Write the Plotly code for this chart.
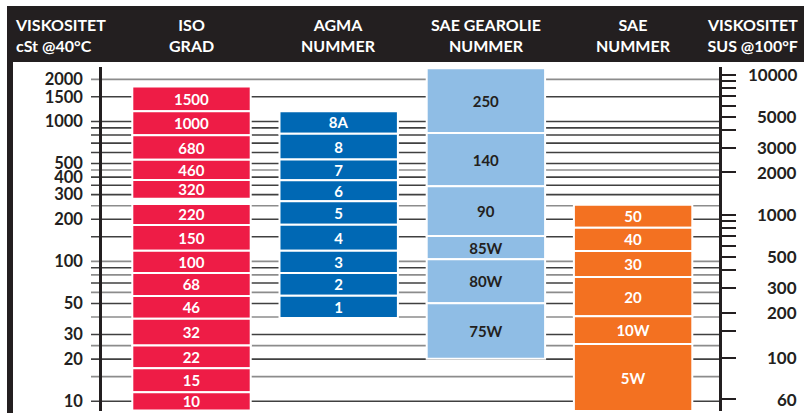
import numpy as np
import plotly.graph_objects as go

# ---------------- data ----------------
# Left scale: cSt @ 40 C
cst_ticks = [2000, 1500, 1000, 500, 400, 300, 200, 100, 50, 30, 20, 10]
grid_dark = [1500, 1000, 900, 800, 700, 600, 500, 400, 350, 300, 200, 150, 90, 70, 50, 30, 20, 10]
grid_gray = [2000, 450, 250, 100, 80, 60, 40, 25, 15]

# Right scale: SUS @ 100 F
sus_ticks = [10000, 5000, 3000, 2000, 1000, 500, 300, 200, 100, 60]
sus_minor = [9000, 8000, 7000, 6000, 4000, 900, 800, 700, 600, 400, 150]

column_titles = ["ISO<br>GRAD", "AGMA<br>NUMMER", "SAE GEAROLIE<br>NUMMER", "SAE<br>NUMMER"]

iso_labels = ["1500", "1000", "680", "460", "320", "220", "150", "100", "68", "46", "32", "22", "15", "10"]
iso_high = [1780, 1183, 796, 532, 382, 257, 182, 119, 82.7, 56.5, 38.9, 25.0, 17.2, 11.6]
iso_low = [1183, 796, 532, 382, 280, 182, 119, 82.7, 56.5, 38.9, 25.0, 17.2, 11.6, 8.6]

agma_labels = ["8A", "8", "7", "6", "5", "4", "3", "2", "1"]
agma_high = [1183, 817, 534, 380, 269, 183, 119, 82.7, 56.7]
agma_low = [817, 534, 380, 269, 183, 119, 82.7, 56.7, 39.4]

gear_labels = ["250", "140", "90", "85W", "80W", "75W"]
gear_high = [2400, 828, 344, 152, 103.5, 50.2]
gear_low = [828, 344, 152, 103.5, 50.2, 20.1]

sae_labels = ["50", "40", "30", "20", "10W", "5W"]
sae_high = [254, 174, 118.6, 77.4, 40.5, 25.7]
sae_low = [174, 118.6, 77.4, 40.5, 25.7, 8.5]

# ---------------- helpers ----------------
def sus_from_cst(v):
    return 4.6324 * v + (1.0 + 0.03264 * v) / ((3930.2 + 262.7 * v + 23.97 * v ** 2 + 1.646 * v ** 3) * 1e-5)

def cst_from_sus(s):
    lo, hi = 0.5, 1e5
    for _ in range(200):
        mid = np.sqrt(lo * hi)
        if sus_from_cst(mid) < s:
            lo = mid
        else:
            hi = mid
    return float(np.sqrt(lo * hi))

W, H = 804, 413
PL, PR, PT, PB = 102, 719, 67, 411
def xp(px):
    return (px - PL) / (PR - PL)
def yp(py):
    return (PB - py) / (PB - PT)

UNIT = 147.2          # px per column
C0 = 191.5            # px centre of first column
xrange_ = [(PL - C0) / UNIT, (PR - C0) / UNIT]
BAR_W = 118.4 / UNIT
yrange_ = [0.9303, 3.3892]

DARK = "#231f20"
FONT = "Lato"

fig = go.Figure()

cols = [
    (iso_labels, iso_low, iso_high, "#ee1c46", "white"),
    (agma_labels, agma_low, agma_high, "#0068b4", "white"),
    (gear_labels, gear_low, gear_high, "#8fbde5", DARK),
    (sae_labels, sae_low, sae_high, "#f37121", "white"),
]
for i, (labs, lows, highs, color, tcol) in enumerate(cols):
    fig.add_trace(go.Bar(
        x=[i] * len(labs),
        y=[h - l for l, h in zip(lows, highs)],
        base=lows,
        width=BAR_W,
        text=labs,
        textposition="inside",
        insidetextanchor="middle",
        textangle=0,
        constraintext="none",
        textfont=dict(family=FONT, size=15, color=tcol, weight="bold"),
        marker=dict(color=color, line=dict(color="white", width=2)),
        hoverinfo="skip",
        showlegend=False,
    ))

# invisible trace for the right axis
fig.add_trace(go.Scatter(x=[0], y=[100], yaxis="y2", mode="markers",
                         marker=dict(opacity=0), hoverinfo="skip", showlegend=False))

sus_pos = [cst_from_sus(s) for s in sus_ticks]
sus_minor_pos = [cst_from_sus(s) for s in sus_minor]

fig.update_layout(
    width=W, height=H, autosize=False,
    margin=dict(l=PL, r=W - PR, t=PT, b=H - PB, pad=0),
    paper_bgcolor="white", plot_bgcolor="rgba(0,0,0,0)",
    barmode="overlay",
    xaxis=dict(range=xrange_, visible=False, fixedrange=True),
    yaxis=dict(type="log", range=yrange_, showgrid=False, zeroline=False,
               showline=True, linecolor=DARK, linewidth=2.5,
               tickmode="array", tickvals=cst_ticks, ticktext=[str(v) for v in cst_ticks],
               ticks="", ticklabelstandoff=13,
               tickfont=dict(family=FONT, size=16.5, color=DARK, weight="bold")),
    yaxis2=dict(type="log", range=yrange_, overlaying="y", side="right",
                showgrid=False, zeroline=False, showline=True, linecolor=DARK, linewidth=2.5,
                tickmode="array", tickvals=sus_pos, ticks="outside", ticklen=14,
                tickwidth=1.5, tickcolor=DARK, showticklabels=False,
                minor=dict(tickvals=sus_minor_pos, ticks="outside", ticklen=14,
                           tickwidth=1.5, tickcolor=DARK, showgrid=False)),
    showlegend=False,
)

shapes = [
    dict(type="rect", xref="paper", yref="paper", x0=xp(7), x1=xp(806), y0=yp(62), y1=yp(6),
         fillcolor=DARK, line=dict(width=0), layer="below"),
    dict(type="rect", xref="paper", yref="paper", x0=xp(7), x1=xp(13), y0=yp(420), y1=yp(6),
         fillcolor=DARK, line=dict(width=0), layer="below"),
]
# horizontal gridlines behind the bars, extending left of the axis like ticks
for vals, color in ((grid_gray, "#8c8c8c"), (grid_dark, "#404040")):
    for v in vals:
        shapes.append(dict(type="line", xref="paper", yref="y", x0=xp(91), x1=xp(PR),
                           y0=v, y1=v, line=dict(color=color, width=1.6), layer="below"))
fig.update_layout(shapes=shapes)

hfont = dict(family=FONT, size=16, color="white", weight="bold")
ann = [
    dict(xref="paper", yref="paper", x=xp(13), y=yp(35.5), xanchor="left", yanchor="middle",
         align="left", text="VISKOSITET<br>cSt @40°C", showarrow=False, font=hfont),
    dict(xref="paper", yref="paper", x=xp(800), y=yp(35.5), xanchor="right", yanchor="middle",
         align="right", text="VISKOSITET<br>SUS @100°F", showarrow=False, font=hfont),
]
for i, t in enumerate(column_titles):
    ann.append(dict(xref="x", yref="paper", x=i, y=yp(35.5), xanchor="center", yanchor="middle",
                    align="center", text=t, showarrow=False, font=hfont))
for s, c in zip(sus_ticks, sus_pos):
    ann.append(dict(xref="paper", yref="y", x=xp(799), y=np.log10(c), xanchor="right",
                    yanchor="middle", text=str(s), showarrow=False,
                    font=dict(family=FONT, size=17, color=DARK, weight="bold")))
fig.update_layout(annotations=ann)

fig.write_html("out.html", config={"displayModeBar": False},
               post_script="document.body.style.margin='0px';")
